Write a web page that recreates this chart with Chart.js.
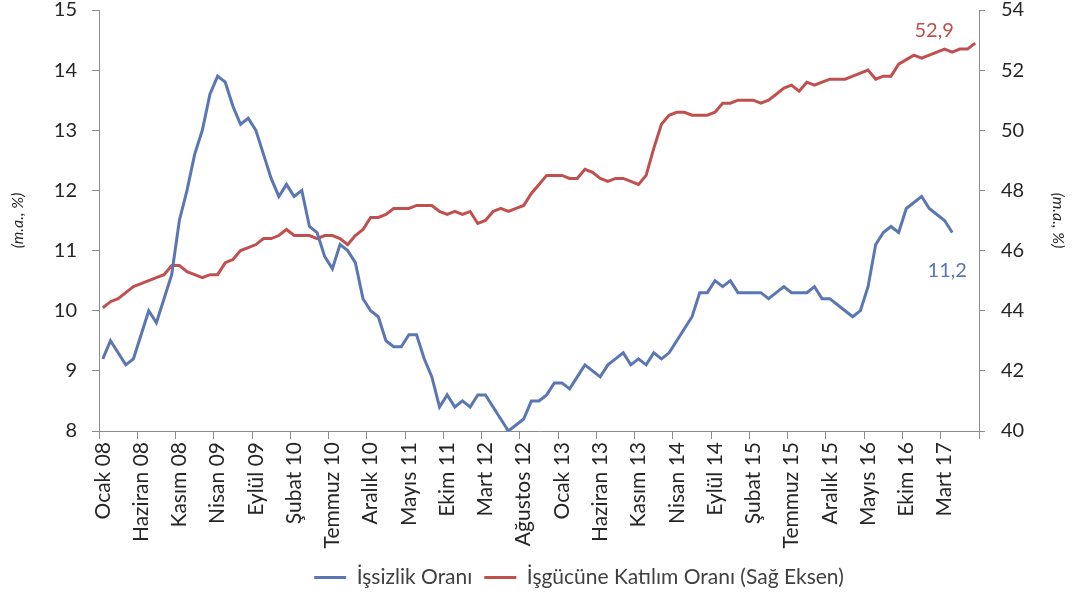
<!DOCTYPE html>
<html>
<head>
<meta charset="utf-8">
<script src="https://cdn.jsdelivr.net/npm/chart.js@4"></script>
<style>
  html, body { margin: 0; padding: 0; background: #fff; }
  #wrap { width: 1076px; height: 599px; }
</style>
</head>
<body>
<div id="wrap"><canvas id="myChart" width="1076" height="599"></canvas></div>
<script>
const months = ['Ocak', 'Şubat', 'Mart', 'Nisan', 'Mayıs', 'Haziran', 'Temmuz', 'Ağustos', 'Eylül', 'Ekim', 'Kasım', 'Aralık'];
const categories = [];
for (let y = 2008; y <= 2017; y++) {
    for (let m = 0; m < 12; m++) {
        if (categories.length < 115) categories.push(months[m] + ' ' + String(y).slice(2));
    }
}

// İşsizlik Oranı (sol eksen), Ocak 08 - Nisan 17
const unemployment = [
    9.2, 9.5, 9.3, 9.1, 9.2, 9.6, 10.0, 9.8, 10.2, 10.6,
    11.5, 12.0, 12.6, 13.0, 13.6, 13.9, 13.8, 13.4, 13.1, 13.2,
    13.0, 12.6, 12.2, 11.9, 12.1, 11.9, 12.0, 11.4, 11.3, 10.9,
    10.7, 11.1, 11.0, 10.8, 10.2, 10.0, 9.9, 9.5, 9.4, 9.4,
    9.6, 9.6, 9.2, 8.9, 8.4, 8.6, 8.4, 8.5, 8.4, 8.6,
    8.6, 8.4, 8.2, 8.0, 8.1, 8.2, 8.5, 8.5, 8.6, 8.8,
    8.8, 8.7, 8.9, 9.1, 9.0, 8.9, 9.1, 9.2, 9.3, 9.1,
    9.2, 9.1, 9.3, 9.2, 9.3, 9.5, 9.7, 9.9, 10.3, 10.3,
    10.5, 10.4, 10.5, 10.3, 10.3, 10.3, 10.3, 10.2, 10.3, 10.4,
    10.3, 10.3, 10.3, 10.4, 10.2, 10.2, 10.1, 10.0, 9.9, 10.0,
    10.4, 11.1, 11.3, 11.4, 11.3, 11.7, 11.8, 11.9, 11.7, 11.6,
    11.5, 11.3
];

// İşgücüne Katılım Oranı (sağ eksen), Ocak 08 - Temmuz 17
const participation = [
    44.1, 44.3, 44.4, 44.6, 44.8, 44.9, 45.0, 45.1, 45.2, 45.5,
    45.5, 45.3, 45.2, 45.1, 45.2, 45.2, 45.6, 45.7, 46.0, 46.1,
    46.2, 46.4, 46.4, 46.5, 46.7, 46.5, 46.5, 46.5, 46.4, 46.5,
    46.5, 46.4, 46.2, 46.5, 46.7, 47.1, 47.1, 47.2, 47.4, 47.4,
    47.4, 47.5, 47.5, 47.5, 47.3, 47.2, 47.3, 47.2, 47.3, 46.9,
    47.0, 47.3, 47.4, 47.3, 47.4, 47.5, 47.9, 48.2, 48.5, 48.5,
    48.5, 48.4, 48.4, 48.7, 48.6, 48.4, 48.3, 48.4, 48.4, 48.3,
    48.2, 48.5, 49.4, 50.2, 50.5, 50.6, 50.6, 50.5, 50.5, 50.5,
    50.6, 50.9, 50.9, 51.0, 51.0, 51.0, 50.9, 51.0, 51.2, 51.4,
    51.5, 51.3, 51.6, 51.5, 51.6, 51.7, 51.7, 51.7, 51.8, 51.9,
    52.0, 51.7, 51.8, 51.8, 52.2, 52.35, 52.5, 52.4, 52.5, 52.6,
    52.7, 52.6, 52.7, 52.7, 52.9
];

const seriesNames = ['İşsizlik Oranı', 'İşgücüne Katılım Oranı (Sağ Eksen)'];
const endLabels = ['11,2', '52,9'];
const labelEvery = 5;

const blue = '#5A76B3';
const red = '#C0504D';
const axisGray = '#8C8C8C';
const textColor = '#262626';
const fontFamily = 'Lato, "Open Sans", sans-serif';

// son değer etiketleri
const endLabelPlugin = {
    id: 'endLabels',
    afterDatasetsDraw(chart) {
        const offsets = [[-5, 38], [-41, -13]];
        const ctx = chart.ctx;
        ctx.save();
        ctx.font = '20px ' + fontFamily;
        ctx.textAlign = 'center';
        ctx.textBaseline = 'middle';
        chart.data.datasets.forEach((ds, i) => {
            const pts = chart.getDatasetMeta(i).data;
            const last = pts[pts.length - 1];
            ctx.fillStyle = ds.borderColor;
            ctx.fillText(endLabels[i], last.x + offsets[i][0], last.y + offsets[i][1]);
        });
        ctx.restore();
    }
};

// lejantı biraz sağa kaydır
const legendShift = {
    id: 'legendShift',
    afterLayout(chart) {
        chart.legend.left += 41;
        chart.legend.right += 41;
    }
};

const noVPad = (scale) => { scale.paddingTop = 0; scale.paddingBottom = 0; };

const ctx = document.getElementById('myChart');
const myChart = new Chart(ctx, {
    type: 'line',
    data: {
        labels: categories,
        datasets: [{
            label: seriesNames[0],
            data: unemployment,
            borderColor: blue,
            backgroundColor: blue,
            borderWidth: 3,
            pointRadius: 0,
            tension: 0,
            yAxisID: 'y'
        },
        {
            label: seriesNames[1],
            data: participation,
            borderColor: red,
            backgroundColor: red,
            borderWidth: 3,
            pointRadius: 0,
            tension: 0,
            yAxisID: 'y1'
        }]
    },
    options: {
        responsive: false,
        animation: false,
        layout: { padding: { top: 10, bottom: 1, left: 0, right: 0 } },
        plugins: {
            tooltip: { enabled: false },
            legend: {
                position: 'bottom',
                labels: {
                    usePointStyle: true,
                    pointStyle: 'line',
                    pointStyleWidth: 32,
                    boxHeight: 21,
                    padding: 12,
                    color: '#404040',
                    font: { family: fontFamily, size: 21 }
                }
            }
        },
        scales: {
            x: {
                offset: true,
                grid: {
                    offset: true,
                    drawOnChartArea: false,
                    tickLength: 8,
                    tickColor: (c) => (c.index === undefined || c.index % labelEvery === 0) ? axisGray : 'rgba(0,0,0,0)'
                },
                border: { color: axisGray },
                ticks: {
                    autoSkip: false,
                    maxRotation: 90,
                    minRotation: 90,
                    padding: 3,
                    color: textColor,
                    font: { family: fontFamily, size: 21 },
                    callback: function (val, index) {
                        return index % labelEvery === 0 ? this.getLabelForValue(val) : '';
                    }
                },
                afterFit: (scale) => { scale.height = 124; }
            },
            y: {
                position: 'left',
                min: 8,
                max: 15,
                ticks: {
                    stepSize: 1,
                    padding: 15,
                    color: textColor,
                    font: { family: fontFamily, size: 20 }
                },
                grid: { drawOnChartArea: false, tickLength: 7, color: axisGray },
                border: { color: axisGray },
                title: {
                    display: true,
                    text: '(m.a., %)',
                    color: textColor,
                    padding: { top: 8, bottom: 4 },
                    font: { family: fontFamily, size: 16, style: 'italic' }
                },
                afterFit: (scale) => { scale.width = 99; noVPad(scale); }
            },
            y1: {
                position: 'right',
                min: 40,
                max: 54,
                ticks: {
                    stepSize: 2,
                    padding: 16,
                    color: textColor,
                    font: { family: fontFamily, size: 20 }
                },
                grid: { drawOnChartArea: false, tickLength: 6, color: axisGray },
                border: { color: axisGray },
                title: {
                    display: true,
                    text: '(m.a., %)',
                    color: textColor,
                    padding: { top: 8, bottom: 4 },
                    font: { family: fontFamily, size: 16, style: 'italic' }
                },
                afterFit: (scale) => { scale.width = 97; noVPad(scale); }
            }
        }
    },
    plugins: [endLabelPlugin, legendShift]
});
</script>
</body>
</html>
